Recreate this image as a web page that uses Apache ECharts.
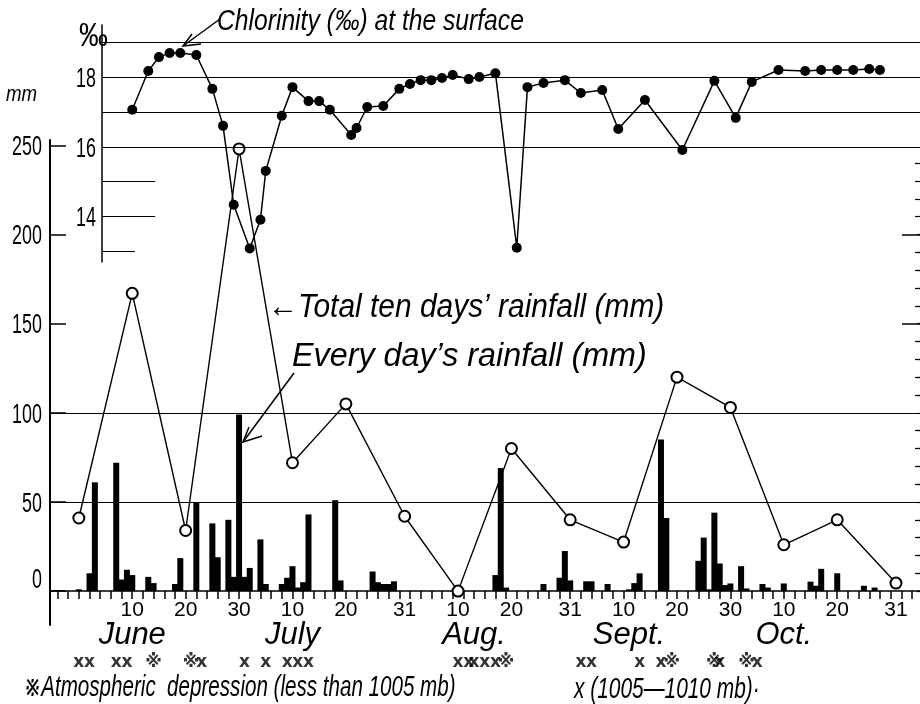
<!DOCTYPE html>
<html>
<head>
<meta charset="utf-8">
<script src="https://cdn.jsdelivr.net/npm/echarts@6/dist/echarts.min.js"></script>
<style>
  html, body { margin: 0; padding: 0; background: #fff; }
  #chart { width: 920px; height: 704px; }
</style>
</head>
<body>
<div id="chart"></div>
<script>
// Day numbering: day 1 = 1 June, day 31 = 1 July, day 62 = 1 Aug,
// day 93 = 1 Sept, day 123 = 1 Oct (day 0 = 31 May).

// Every day's rainfall (mm)
const rainDays = [
  0, 2, 3, 7, 8, 9, 10, 13, 14, 18, 19, 22, 25, 26, 28, 29, 30,
  31, 32, 34, 35, 38, 39, 40, 41, 42, 43, 48, 49, 55, 56, 57, 58, 59,
  78, 79, 80, 87, 90, 91, 92,
  95, 96, 99, 103, 104, 105, 109, 110, 116, 117, 118, 119, 120, 121, 122,
  124, 125, 128, 129, 132, 137, 138, 139, 142, 147, 149
];
const rainMm = [
  1, 10, 61, 72, 6.5, 12, 9, 8, 4.5, 4, 18.5, 50, 38, 19, 40, 8, 99,
  8, 13, 29, 4, 4, 7.5, 14, 2, 5, 43, 51, 6, 11, 5, 4, 4, 5.5,
  9, 69, 2, 4, 7.5, 22.5, 6,
  5.5, 5.5, 4, 1, 4.5, 10, 85, 41, 17, 30, 1, 44, 15.5, 3.4, 4.3,
  14, 1.5, 4, 2, 4.3, 5.3, 3, 12.5, 10, 3, 2
];

// Total ten days' rainfall (mm), plotted at the last day of each period
const tenDayEnd = [0, 10, 20, 30, 40, 50, 61, 71, 81, 92, 102, 112, 122, 132, 142, 153];
const tenDayMm  = [41, 167, 34, 248, 72, 105, 42, 0, 80, 40, 27.5, 120, 103, 26, 40, 4.5];

// Chlorinity (per mille) at the surface
const chlDays = [
  10, 13, 15, 17, 19, 22, 25, 27, 29, 32, 34, 35, 38, 40, 43, 45, 47, 51, 52, 54,
  57, 60, 62, 64, 66, 68, 70, 73, 75, 78, 82, 84, 87, 91, 94, 98, 101, 106, 113, 119,
  123, 126, 131, 136, 139, 142, 145, 148, 150
];
const chlValues = [
  17.06, 18.17, 18.57, 18.69, 18.69, 18.63, 17.66, 16.6, 14.34, 13.09,
  13.91, 15.31, 16.89, 17.71, 17.31, 17.31, 17.06, 16.34, 16.54, 17.14,
  17.17, 17.66, 17.8, 17.91, 17.91, 17.97, 18.06, 17.94, 18.0, 18.11,
  13.11, 17.71, 17.83, 17.91, 17.54, 17.63, 16.51, 17.34, 15.91, 17.89,
  16.83, 17.86, 18.2, 18.17, 18.2, 18.2, 18.2, 18.23, 18.2
];

// Atmospheric depressions: ※ below 1005 mb, x between 1005 and 1010 mb
const deepDepressionDays = [14, 21, 80, 111, 119, 125];
const weakDepressionDays = [0, 2, 7, 9, 23, 31, 35, 39, 41, 43, 71, 73, 74, 76, 78, 94, 96, 105, 109, 120, 127];

// Axis labels
const dayTickDays   = [10, 20, 30, 40, 50, 61, 71, 81, 92, 102, 112, 122, 132, 142, 153];
const dayTickLabels = ['10', '20', '30', '10', '20', '31', '10', '20', '31', '10', '20', '30', '10', '20', '31'];
const monthDays   = [10, 40, 74, 103, 132];
const monthLabels = ['June', 'July', 'Aug.', 'Sept.', 'Oct.'];
const rainLabelValues = [0, 50, 100, 150, 200, 250];
const chlLabelValues  = [14, 16, 18];

// ---- layout ----
const SANS = '"Liberation Sans","DejaVu Sans",sans-serif';
const SYMBOL_FONT = '"DejaVu Sans","Noto Sans CJK JP",sans-serif';
const G_LEFT = 50, CHL_LEFT = 102;
const X_MIN = -5.4, X_MAX = 157.5;
const PX_PER_DAY = (920 - G_LEFT) / (X_MAX - X_MIN);
const X_MIN_CHL = X_MIN + (CHL_LEFT - G_LEFT) / PX_PER_DAY;
const RAIN_MIN = -19, RAIN_MAX = 253;
const SYMBOL_ROW = -40;   // rainfall-axis level used for the depression marks row

function range(a, b, step) { const r = []; for (let v = a; v <= b + 1e-9; v += step) r.push(v); return r; }
const dayMinorTicks = range(-4, 156, 2);
const rainMinorTicks = range(0, 250, 10).filter(v => v % 50 !== 0);
const rightMinorTicks = range(0, 200, 10);
const rightMajorTicks = [150, 200];

const black = '#000';
const baseY = {
  type: 'value', gridIndex: 0, min: RAIN_MIN, max: RAIN_MAX,
  splitLine: { show: false }, axisLabel: { show: false },
  axisLine: { show: false, onZero: false }
};

// narrow, hand-lettered looking text: a normal face squeezed horizontally
function label(text, x, y, size, opts) {
  opts = opts || {};
  return {
    type: 'text', x: x, y: y, scaleX: opts.scaleX || 0.75, silent: true, z: 10,
    style: {
      text: text, fill: black, fontSize: size, fontFamily: SANS,
      fontStyle: opts.italic ? 'italic' : 'normal',
      textAlign: opts.align || 'left', textVerticalAlign: 'middle'
    }
  };
}

const chart = echarts.init(document.getElementById('chart'));
chart.setOption({
  animation: false,
  backgroundColor: '#fff',
  grid: [
    { left: G_LEFT, right: 0, top: 140, bottom: 79 },
    { left: CHL_LEFT, right: 0, top: 25, bottom: 442 }
  ],
  xAxis: [
    {
      type: 'value', gridIndex: 0, min: X_MIN, max: X_MAX,
      splitLine: { show: false },
      axisLine: { onZero: true, lineStyle: { color: black, width: 1.5 } },
      axisTick: { customValues: dayMinorTicks, length: 8, lineStyle: { color: black, width: 1.5 } },
      axisLabel: {
        customValues: dayTickDays, margin: -25, color: black, fontSize: 21, fontFamily: SANS,
        formatter: v => dayTickLabels[dayTickDays.indexOf(v)]
      }
    },
    {
      type: 'value', gridIndex: 0, min: X_MIN, max: X_MAX, position: 'bottom',
      splitLine: { show: false },
      axisLine: { show: false, onZero: false }, axisTick: { show: false },
      axisLabel: {
        customValues: monthDays, margin: -5, color: black, fontSize: 31,
        fontStyle: 'italic', fontFamily: SANS,
        formatter: v => monthLabels[monthDays.indexOf(v)]
      }
    },
    {
      type: 'value', gridIndex: 1, min: X_MIN_CHL, max: X_MAX, show: false
    }
  ],
  yAxis: [
    Object.assign({}, baseY, {
      axisLine: { show: true, onZero: false, lineStyle: { color: black, width: 2 } },
      axisTick: { customValues: rainLabelValues, inside: true, length: 16, lineStyle: { color: black, width: 1.5 } }
    }),
    Object.assign({}, baseY, {
      axisTick: { customValues: rainMinorTicks, inside: true, length: 5, lineStyle: { color: black, width: 1.2 } }
    }),
    Object.assign({}, baseY, {
      position: 'right',
      axisTick: { customValues: rightMinorTicks, inside: true, length: 3, lineStyle: { color: black, width: 1.2 } }
    }),
    Object.assign({}, baseY, {
      position: 'right',
      axisTick: { customValues: rightMajorTicks, inside: true, length: 18, lineStyle: { color: black, width: 1.5 } }
    }),
    {
      type: 'value', gridIndex: 1, min: 12.7, max: 19.49,
      splitLine: { show: false },
      axisLine: { show: true, onZero: false, lineStyle: { color: black, width: 1.5 } },
      axisTick: { show: false },
      axisLabel: { show: false }
    }
  ],
  series: [
    {
      name: 'Every day\u2019s rainfall', type: 'bar', xAxisIndex: 0, yAxisIndex: 0,
      data: rainDays.map((d, i) => [d, rainMm[i]]),
      barWidth: 6, itemStyle: { color: black }, z: 2,
      markLine: {
        silent: true, symbol: ['none', 'none'], label: { show: false },
        lineStyle: { color: black, width: 1, type: 'solid' },
        data: [{ yAxis: 50 }, { yAxis: 100 }]
      }
    },
    {
      name: 'Total ten days\u2019 rainfall', type: 'line', xAxisIndex: 0, yAxisIndex: 0,
      data: tenDayEnd.map((d, i) => [d, tenDayMm[i]]),
      symbol: 'emptyCircle', symbolSize: 11,
      lineStyle: { color: black, width: 1.4 },
      itemStyle: { color: black, borderColor: black, borderWidth: 1.5 }, z: 4
    },
    {
      name: 'Chlorinity', type: 'line', xAxisIndex: 2, yAxisIndex: 4,
      data: chlDays.map((d, i) => [d, chlValues[i]]),
      symbol: 'circle', symbolSize: 10,
      lineStyle: { color: black, width: 1.5 },
      itemStyle: { color: black }, z: 5,
      markLine: {
        silent: true, symbol: ['none', 'none'], label: { show: false },
        lineStyle: { color: black, width: 1, type: 'solid' },
        data: [
          { yAxis: 16 }, { yAxis: 17 }, { yAxis: 18 }, { yAxis: 19 },
          [{ coord: [X_MIN_CHL, 15] }, { coord: [14.3, 15] }],
          [{ coord: [X_MIN_CHL, 14] }, { coord: [14.3, 14] }],
          [{ coord: [X_MIN_CHL, 13] }, { coord: [10.5, 13] }]
        ]
      }
    },
    {
      name: 'Depression < 1005 mb', type: 'scatter', xAxisIndex: 0, yAxisIndex: 0, clip: false,
      data: deepDepressionDays.map(d => [d, SYMBOL_ROW]),
      symbolSize: 1, itemStyle: { color: 'rgba(0,0,0,0)' },
      label: { show: true, position: 'inside', formatter: '※', fontSize: 17, fontWeight: 'bold', fontFamily: SYMBOL_FONT, color: black }
    },
    {
      name: 'Depression 1005-1010 mb', type: 'scatter', xAxisIndex: 0, yAxisIndex: 0, clip: false,
      data: weakDepressionDays.map(d => [d, SYMBOL_ROW]),
      symbolSize: 1, itemStyle: { color: 'rgba(0,0,0,0)' },
      label: { show: true, position: 'inside', formatter: 'x', fontSize: 17, fontWeight: 'bold', fontFamily: SYMBOL_FONT, color: black }
    }
  ]
});

// Tall, narrow value labels for both vertical scales, placed through the axes
const rainAxisLabels = rainLabelValues.map(v => {
  const py = chart.convertToPixel({ yAxisIndex: 0 }, v);
  return label(String(v), 42, v === 0 ? py - 11 : py + 2, 28, { align: 'right', scaleX: 0.64 });
});
const chlAxisLabels = chlLabelValues.map(v => {
  const py = chart.convertToPixel({ yAxisIndex: 4 }, v);
  return label(String(v), 96, py + 2, 28, { align: 'right', scaleX: 0.64 });
});

chart.setOption({
  graphic: rainAxisLabels.concat(chlAxisLabels, [
    label('‰', 79, 37, 34, { scaleX: 0.85 }),
    label('mm', 6, 95, 22, { italic: true, scaleX: 0.85 }),
    label('Chlorinity (‰) at the surface', 217, 22, 29, { italic: true, scaleX: 0.85 }),
    { type: 'polyline', shape: { points: [[183, 46], [220, 19]] }, style: { stroke: black, lineWidth: 1.5, fill: null } },
    { type: 'polyline', shape: { points: [[192, 34], [183, 46], [201, 44]] }, style: { stroke: black, lineWidth: 1.5, fill: null } },
    label('←Total ten days\u2019 rainfall (mm)', 268, 308, 34, { italic: true, scaleX: 0.88 }),
    label('Every day\u2019s rainfall (mm)', 292, 357, 34, { italic: true, scaleX: 0.95 }),
    { type: 'polyline', shape: { points: [[243, 442], [294, 373]] }, style: { stroke: black, lineWidth: 1.5, fill: null } },
    { type: 'polyline', shape: { points: [[249, 427], [243, 442], [262, 436]] }, style: { stroke: black, lineWidth: 1.5, fill: null } },
    label('※Atmospheric  depression (less than 1005 mb)', 24, 688, 29, { italic: true, scaleX: 0.71 }),
    label('x (1005\u20141010 mb)\u00b7', 574, 690, 29, { italic: true, scaleX: 0.72 })
  ])
});
</script>
</body>
</html>
